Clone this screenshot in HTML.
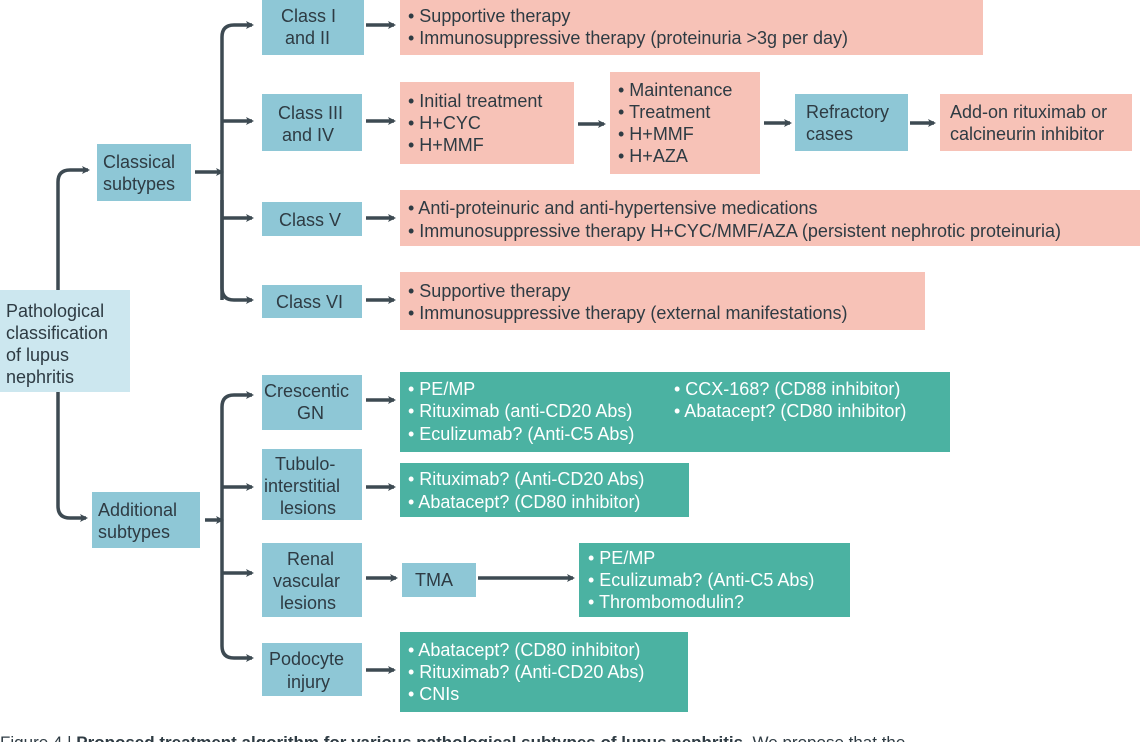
<!DOCTYPE html>
<html><head><style>
body{margin:0;background:#fff}
svg{display:block}
text{font-family:"Liberation Sans",sans-serif;font-size:18px;fill:#2e3b43}
.w{fill:#fff}
</style></head><body>
<svg width="1142" height="742" viewBox="0 0 1142 742">
<defs><marker id="a" markerWidth="8" markerHeight="8" refX="6" refY="4" orient="auto" markerUnits="userSpaceOnUse"><path d="M0,0 L8,4 L0,8 L2,4z" fill="#3d4a52"/></marker></defs>
<g fill="none" stroke="#3d4a52" stroke-width="3.5" marker-end="url(#a)">
<path d="M58,290 V182 Q58,170 70,170 H88"/>
<path d="M58,392 V506 Q58,518 70,518 H86"/>
<path d="M195,172 H222"/>
<path d="M222,300 V37 Q222,25 234,25 H252"/>
<path d="M222,121 H252"/><path d="M222,218 H252"/>
<path d="M222,200 V288 Q222,300 234,300 H252"/>
<path d="M222,407 Q222,395 234,395 H252"/>
<path d="M205,520 H222"/>
<path d="M222,407 V646 Q222,658 234,658 H252"/>
<path d="M222,487 H252"/><path d="M222,573 H252"/>
<path d="M366,25 H394"/><path d="M366,121 H394"/><path d="M366,218 H394"/><path d="M366,300 H394"/>
<path d="M366,400 H394"/><path d="M366,487 H394"/><path d="M366,578 H396"/><path d="M366,670 H394"/>
<path d="M578,124 H604"/><path d="M764,123 H790"/><path d="M910,123 H934"/><path d="M478,578 H573"/>
</g>
<g fill="#8ec7d6">
<rect x="97" y="144" width="94" height="57"/><rect x="92" y="492" width="108" height="56"/>
<rect x="262" y="0" width="102" height="55"/><rect x="262" y="94" width="100" height="57"/>
<rect x="262" y="202" width="100" height="34"/><rect x="262" y="285" width="100" height="33"/>
<rect x="262" y="375" width="100" height="55"/><rect x="262" y="449" width="100" height="71"/>
<rect x="262" y="543" width="100" height="74"/><rect x="262" y="643" width="100" height="53"/>
<rect x="795" y="94" width="113" height="57"/><rect x="402" y="563" width="74" height="34"/>
</g>
<rect x="0" y="290" width="130" height="102" fill="#cce7ef"/>
<g fill="#f7c2b7">
<rect x="400" y="0" width="583" height="55"/><rect x="400" y="82" width="174" height="82"/>
<rect x="610" y="72" width="150" height="102"/><rect x="940" y="94" width="192" height="57"/>
<rect x="400" y="190" width="740" height="56"/><rect x="400" y="272" width="525" height="58"/>
</g>
<g fill="#4bb2a2">
<rect x="400" y="372" width="550" height="80"/><rect x="400" y="463" width="289" height="54"/>
<rect x="579" y="543" width="271" height="74"/><rect x="400" y="632" width="288" height="80"/>
</g>
<text x="6" y="317">Pathological</text><text x="6" y="339">classification</text><text x="6" y="361">of lupus</text><text x="6" y="383">nephritis</text>
<text x="103" y="168">Classical</text><text x="103" y="190">subtypes</text>
<text x="98" y="516">Additional</text><text x="98" y="538">subtypes</text>
<text x="281" y="22">Class I</text><text x="285" y="44">and II</text>
<text x="278" y="119">Class III</text><text x="282" y="141">and IV</text>
<text x="279" y="226">Class V</text><text x="276" y="308">Class VI</text>
<text x="264" y="397">Crescentic</text><text x="297" y="419">GN</text>
<text x="275" y="470">Tubulo-</text><text x="264" y="492">interstitial</text><text x="280" y="514">lesions</text>
<text x="287" y="565">Renal</text><text x="273" y="587">vascular</text><text x="280" y="609">lesions</text>
<text x="269" y="665">Podocyte</text><text x="287" y="688">injury</text>
<text x="806" y="118">Refractory</text><text x="806" y="140">cases</text>
<text x="415" y="586">TMA</text>
<text x="408" y="22">• Supportive therapy</text><text x="408" y="44">• Immunosuppressive therapy (proteinuria &gt;3g per day)</text>
<text x="408" y="107">• Initial treatment</text><text x="408" y="129">• H+CYC</text><text x="408" y="151">• H+MMF</text>
<text x="618" y="96">• Maintenance</text><text x="618" y="118">• Treatment</text><text x="618" y="140">• H+MMF</text><text x="618" y="162">• H+AZA</text>
<text x="950" y="118">Add-on rituximab or</text><text x="950" y="140">calcineurin inhibitor</text>
<text x="408" y="214">• Anti-proteinuric and anti-hypertensive medications</text>
<text x="408" y="237">• Immunosuppressive therapy H+CYC/MMF/AZA (persistent nephrotic proteinuria)</text>
<text x="408" y="297">• Supportive therapy</text><text x="408" y="319">• Immunosuppressive therapy (external manifestations)</text>
<g class="w">
<text class="w" x="408" y="395">• PE/MP</text><text class="w" x="408" y="417">• Rituximab (anti-CD20 Abs)</text><text class="w" x="408" y="440">• Eculizumab? (Anti-C5 Abs)</text>
<text class="w" x="674" y="395">• CCX-168? (CD88 inhibitor)</text><text class="w" x="674" y="417">• Abatacept? (CD80 inhibitor)</text>
<text class="w" x="408" y="485">• Rituximab? (Anti-CD20 Abs)</text><text class="w" x="408" y="508">• Abatacept? (CD80 inhibitor)</text>
<text class="w" x="588" y="564">• PE/MP</text><text class="w" x="588" y="586">• Eculizumab? (Anti-C5 Abs)</text><text class="w" x="588" y="608">• Thrombomodulin?</text>
<text class="w" x="408" y="656">• Abatacept? (CD80 inhibitor)</text><text class="w" x="408" y="678">• Rituximab? (Anti-CD20 Abs)</text><text class="w" x="408" y="700">• CNIs</text>
</g>
<text x="0" y="748" style="font-size:17px">Figure 4 | <tspan font-weight="bold">Proposed treatment algorithm for various pathological subtypes of lupus nephritis.</tspan> We propose that the</text>
</svg>
</body></html>
